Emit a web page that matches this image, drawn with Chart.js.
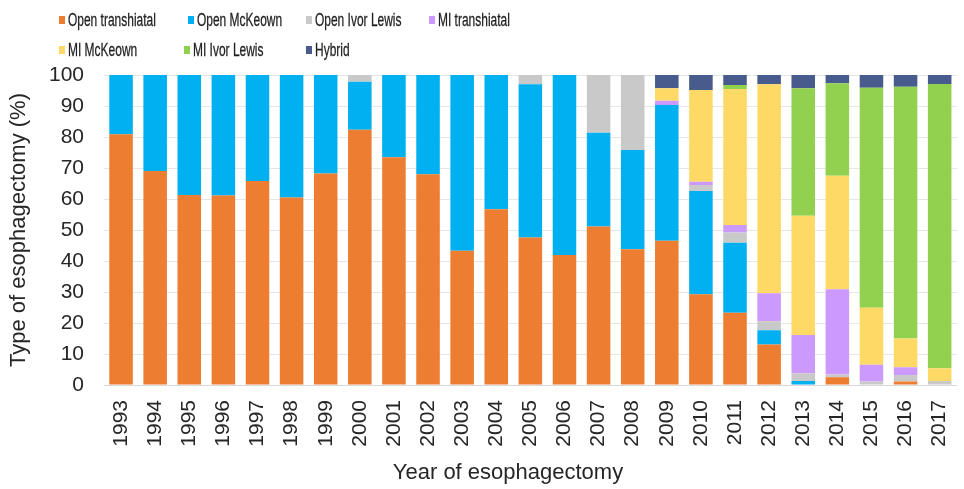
<!DOCTYPE html>
<html>
<head>
<meta charset="utf-8">
<script src="https://cdn.jsdelivr.net/npm/chart.js@4"></script>
<style>
  html, body { margin: 0; padding: 0; background: #fff; overflow: hidden; }
  #wrap { position: relative; width: 980px; height: 489px; }
  .leg { position: absolute; height: 20px; display: flex; align-items: center; }
  .leg i { display: block; width: 6px; height: 8px; margin-right: 3px; }
  .leg span { font: 19px "Liberation Sans", Arial, sans-serif; color: #1f1f1f; white-space: nowrap;
              transform: scaleX(0.63); transform-origin: left center; -webkit-text-stroke: 0.3px #1f1f1f; }
  #xtitle { position: absolute; left: 0; width: 1016px; top: 461px; text-align: center;
            font: 22px/1 "Liberation Sans", Arial, sans-serif; color: #262626; }
</style>
</head>
<body>
<div id="wrap">
  <canvas id="chart"></canvas>
  <div id="legend"></div>
  <div id="xtitle">Year of esophagectomy</div>
</div>
<script>
const years = ['1993', '1994', '1995', '1996', '1997', '1998', '1999', '2000', '2001', '2002', '2003', '2004', '2005',
  '2006', '2007', '2008', '2009', '2010', '2011', '2012', '2013', '2014', '2015', '2016', '2017'];

// percentages per year
const openTranshiatal = [80.9, 69.0, 61.3, 61.1, 65.8, 60.5, 68.2, 82.3, 73.5, 68.0, 43.3, 56.7, 47.6,
  41.9, 51.1, 43.8, 46.5, 29.3, 23.3, 13.1, 0, 2.5, 0, 1.1, 0];
const openMcKeown = [19.1, 31.0, 38.7, 38.9, 34.2, 39.5, 31.8, 15.5, 26.5, 32.0, 56.7, 43.3, 49.4,
  58.1, 30.3, 32.0, 43.8, 33.3, 22.6, 4.6, 1.3, 0, 0, 0, 0];
const openIvorLewis = [0, 0, 0, 0, 0, 0, 0, 2.2, 0, 0, 0, 0, 3.0,
  0, 18.6, 24.2, 0, 1.9, 3.3, 2.9, 2.5, 0.9, 1.1, 2.1, 1.3];
const miTranshiatal = [0, 0, 0, 0, 0, 0, 0, 0, 0, 0, 0, 0, 0,
  0, 0, 0, 1.4, 1.1, 2.4, 9.0, 12.3, 27.5, 5.4, 2.5, 0];
const miMcKeown = [0, 0, 0, 0, 0, 0, 0, 0, 0, 0, 0, 0, 0,
  0, 0, 0, 4.0, 29.6, 43.9, 67.4, 38.5, 36.6, 18.4, 9.3, 4.1];
const miIvorLewis = [0, 0, 0, 0, 0, 0, 0, 0, 0, 0, 0, 0, 0,
  0, 0, 0, 0, 0, 1.3, 0, 41.1, 29.8, 71.0, 81.2, 91.7];
const hybrid = [0, 0, 0, 0, 0, 0, 0, 0, 0, 0, 0, 0, 0,
  0, 0, 0, 4.3, 4.8, 3.2, 3.0, 4.3, 2.7, 4.1, 3.8, 2.9];

const yTicks = [0, 10, 20, 30, 40, 50, 60, 70, 80, 90, 100];

const series = [
  { label: 'Open transhiatal', data: openTranshiatal, color: '#ED7D31' },
  { label: 'Open McKeown', data: openMcKeown, color: '#00B0F0' },
  { label: 'Open Ivor Lewis', data: openIvorLewis, color: '#C9C9C9' },
  { label: 'MI transhiatal', data: miTranshiatal, color: '#CC99FF' },
  { label: 'MI McKeown', data: miMcKeown, color: '#FFD966' },
  { label: 'MI Ivor Lewis', data: miIvorLewis, color: '#92D050' },
  { label: 'Hybrid', data: hybrid, color: '#475B8C' }
];

// legend grid positions (left of marker, row centre)
const legendPos = [[59, 20], [188, 20], [306, 20], [429, 20], [59, 50], [184, 50], [306, 50]];

const font = { family: '"Liberation Sans", Arial, sans-serif' };

new Chart(document.getElementById('chart'), {
  type: 'bar',
  data: {
    labels: years,
    datasets: series.map(s => ({
      label: s.label,
      data: s.data,
      backgroundColor: s.color,
      borderWidth: 0,
      barPercentage: 0.69,
      categoryPercentage: 1
    }))
  },
  options: {
    responsive: true,
    maintainAspectRatio: false,
    animation: false,
    layout: { padding: { top: 75, right: 6, left: 0, bottom: 0 } },
    plugins: { legend: { display: false }, tooltip: { enabled: false } },
    scales: {
      x: {
        stacked: true,
        grid: { display: false, drawTicks: false },
        border: { color: '#d9d9d9' },
        ticks: {
          minRotation: 90, maxRotation: 90, padding: 15, autoSkip: false,
          color: '#262626', font: { ...font, size: 21 }
        },
        afterFit: (scale) => { scale.height = 104; }
      },
      y: {
        stacked: true,
        min: 0,
        max: 100,
        afterBuildTicks: (scale) => { scale.ticks = yTicks.map(v => ({ value: v })); },
        grid: { color: '#e6e6e6', drawTicks: false },
        border: { display: false },
        ticks: { padding: 20, color: '#262626', font: { ...font, size: 21 } },
        title: {
          display: true, text: 'Type of esophagectomy (%)', color: '#262626',
          padding: { top: 6, bottom: 0 }, font: { ...font, size: 22 }
        },
        afterFit: (scale) => { scale.width = 104; }
      }
    }
  }
});

const legendEl = document.getElementById('legend');
series.forEach((s, i) => {
  const item = document.createElement('div');
  item.className = 'leg';
  item.style.left = legendPos[i][0] + 'px';
  item.style.top = (legendPos[i][1] - 10) + 'px';
  item.innerHTML = '<i style="background:' + s.color + '"></i><span>' + s.label + '</span>';
  legendEl.appendChild(item);
});
</script>
</body>
</html>
